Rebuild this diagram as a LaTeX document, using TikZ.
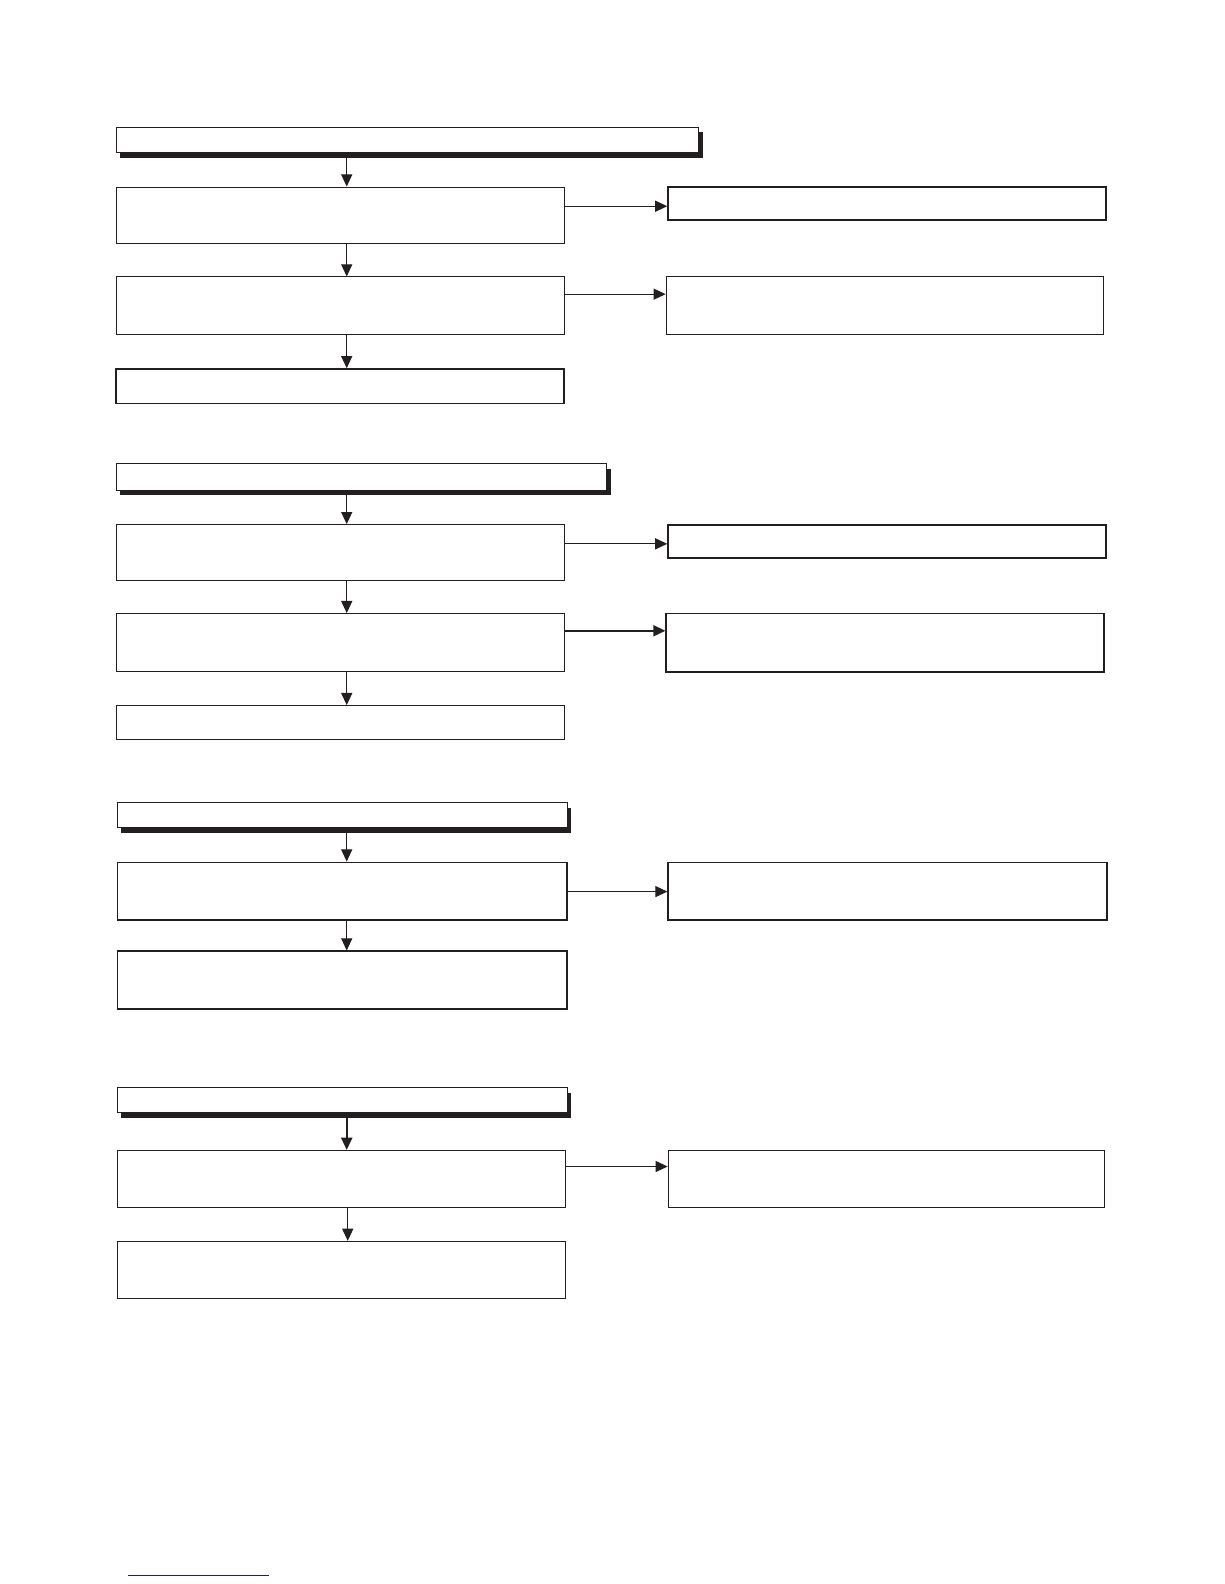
\documentclass[tikz,border=0pt]{standalone}
\usetikzlibrary{arrows.meta}
\usetikzlibrary{fit}
\usetikzlibrary{shadows}
\definecolor{ink}{HTML}{231F20}
\definecolor{linkblue}{HTML}{1A1A8C}

\begin{document}
\begin{tikzpicture}[x=1pt,y=-1pt,
    box/.style={draw=ink,line width=1pt,fill=white,inner sep=0pt},
    boxthick/.style={box,line width=1.5pt},
    header/.style={box,drop shadow={shadow xshift=4pt,shadow yshift=-5pt,fill=ink,opacity=1}},
    arr/.style={draw=ink,line width=1pt,-{Triangle[length=12pt,width=11pt]}}]
    \useasboundingbox (0,0) rectangle (1211,1567);
    % first group
    \node[header,fit={(115,126) (691,151)}] (h1) {};
    \node[box,fit={(115,185) (558,241)}] (a1) {};
    \node[boxthick,line width=1.8pt,fit={(661,185) (1094,218)}] (r1) {};
    \node[box,fit={(115,274) (558,331)}] (b1) {};
    \node[box,fit={(659,274) (1092,331)}] (r2) {};
    \node[boxthick,fit={(115,365) (558,399)}] (c1) {};
    \draw[arr] (343,0 |- h1.south) -- (343,0 |- a1.north);
    \draw[arr] (343,0 |- a1.south) -- (343,0 |- b1.north);
    \draw[arr] (343,0 |- b1.south) -- (343,0 |- c1.north);
    \draw[arr] (a1.east |- 0,204) -- (r1.west |- 0,204);
    \draw[arr] (b1.east |- 0,291) -- (r2.west |- 0,291);
    %
    % second group
    \node[header,fit={(115,459) (600,485)}] (h2) {};
    \node[box,fit={(115,519) (558,574)}] (a2) {};
    \node[boxthick,line width=1.8pt,fit={(661,519) (1094,552)}] (r3) {};
    \node[box,fit={(115,607) (558,664)}] (b2) {};
    \node[boxthick,fit={(659,607) (1092,665)}] (r4) {};
    \node[box,fit={(115,698) (558,732)}] (c2) {};
    \draw[arr] (343,0 |- h2.south) -- (343,0 |- a2.north);
    \draw[arr] (343,0 |- a2.south) -- (343,0 |- b2.north);
    \draw[arr] (343,0 |- b2.south) -- (343,0 |- c2.north);
    \draw[arr] (a2.east |- 0,538) -- (r3.west |- 0,538);
    \draw[arr,line width=1.6pt] (b2.east |- 0,624) -- (r4.west |- 0,624);
    %
    % third group
    \node[header,fit={(116,794) (561,819)}] (h3) {};
    \node[boxthick,fit={(116,853) (561,910)}] (a3) {};
    \node[boxthick,fit={(661,853) (1095,910)}] (r5) {};
    \node[boxthick,fit={(116,941) (561,998)}] (b3) {};
    \draw[arr] (343,0 |- h3.south) -- (343,0 |- a3.north);
    \draw[arr] (343,0 |- a3.south) -- (343,0 |- b3.north);
    \draw[arr] (a3.east |- 0,882) -- (r5.west |- 0,882);
    %
    % fourth group
    \node[header,fit={(116,1076) (561,1101)}] (h4) {};
    \node[box,fit={(116,1138) (559,1195)}] (a4) {};
    \node[box,fit={(661,1138) (1093,1195)}] (r6) {};
    \node[box,fit={(116,1228) (559,1285)}] (b4) {};
    \draw[arr,line width=1.6pt] (343,0 |- h4.south) -- (343,0 |- a4.north);
    \draw[arr] (344,0 |- a4.south) -- (344,0 |- b4.north);
    \draw[arr] (a4.east |- 0,1154) -- (r6.west |- 0,1154);
    %
    \draw[linkblue,line width=1pt] (127,1559) -- (266,1559);
\end{tikzpicture}
\end{document}
